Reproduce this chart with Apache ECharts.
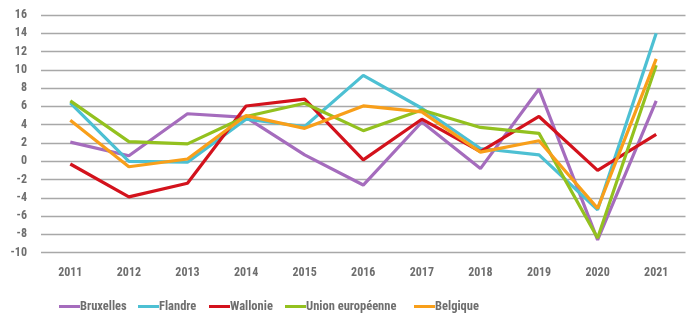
<!DOCTYPE html>
<html><head><meta charset="utf-8">
<script src="https://cdn.jsdelivr.net/npm/echarts@6/dist/echarts.min.js"></script>
<style>html,body{margin:0;padding:0;background:#fff}#c{width:700px;height:328px}</style>
</head><body><div id="c"></div>
<script>
var years = ['2011','2012','2013','2014','2015','2016','2017','2018','2019','2020','2021'];
var bruxelles = [2.1, 0.6, 5.2, 4.8, 0.7, -2.6, 4.3, -0.8, 7.9, -8.6, 6.6];
var flandre   = [6.4, 0.0, -0.1, 4.6, 3.8, 9.4, 5.8, 1.4, 0.7, -5.3, 14.0];
var wallonie  = [-0.3, -3.9, -2.4, 6.05, 6.8, 0.15, 4.6, 1.05, 4.9, -1.0, 2.95];
var ue        = [6.6, 2.15, 1.9, 4.9, 6.35, 3.35, 5.6, 3.7, 3.05, -8.4, 10.5];
var belgique  = [4.5, -0.6, 0.25, 5.0, 3.6, 6.05, 5.4, 1.0, 2.25, -5.15, 11.2];
var seriesNames = ['Bruxelles','Flandre','Wallonie','Union européenne','Belgique'];
var seriesData = [bruxelles, flandre, wallonie, ue, belgique];
var colors = ['#a56cbd','#4dc0d3','#d3121c','#93c11f','#f89f1a'];
var legendLeft = [54, 133, 204, 280, 409];

var font = '"Roboto Condensed","DejaVu Sans Condensed",sans-serif';
var fw = 'bold';
var txt = '#6e6e6e';
var chart = echarts.init(document.getElementById('c'));
chart.setOption({
  animation:false,
  color: colors,
  grid:{left:41, right:14.5, top:15, bottom:75.3},
  legend: seriesNames.map(function(n,i){return {
    data:[n], left:legendLeft[i], top:295, itemWidth:21, itemHeight:3, itemGap:2,
    icon:'rect', textStyle:{color:txt, fontFamily:font, fontWeight:fw, fontSize:12.5, padding:[0,0,0,-5]}
  };}),
  xAxis:{type:'category', data:years, boundaryGap:true,
    axisLine:{show:false}, axisTick:{show:false},
    axisLabel:{color:txt, fontFamily:font, fontWeight:fw, fontSize:12, margin:14}},
  yAxis:{type:'value', min:-10, max:16, interval:2,
    axisLine:{show:false}, axisTick:{show:false},
    splitLine:{lineStyle:{color:'#a8a8a8', width:1.3}},
    axisLabel:{color:txt, fontFamily:font, fontWeight:fw, fontSize:12, margin:14}},
  series: seriesNames.map(function(n,i){return {
    name:n, type:'line', data:seriesData[i], symbol:'none',
    lineStyle:{width:3.2, color:colors[i]}, itemStyle:{color:colors[i]}
  };})
});
</script></body></html>
